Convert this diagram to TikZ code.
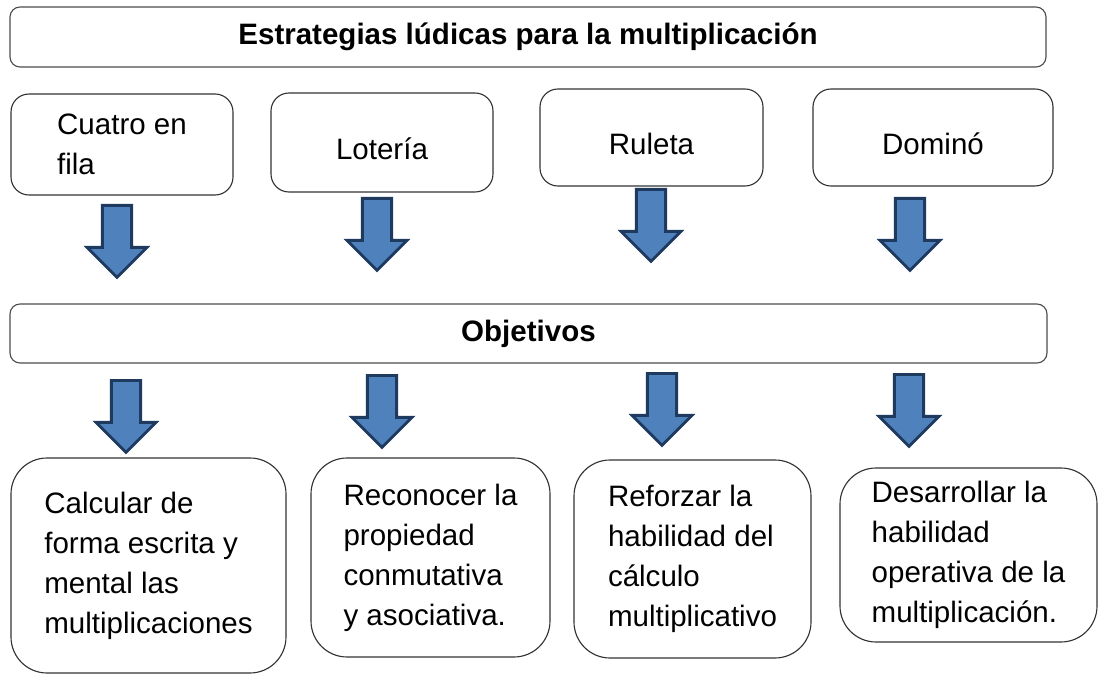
\documentclass[tikz,border=0pt]{standalone}
\usepackage{fontspec}
\setmainfont{Liberation Sans}
\usetikzlibrary{shapes.arrows}

\definecolor{flechaazul}{HTML}{4F81BD}
\definecolor{flechaborde}{HTML}{1F3A5F}

\begin{document}
\begin{tikzpicture}[
  encabezado/.style={
    rectangle, rounded corners=0.25cm, draw=black!70, line width=0.8pt,
    minimum width=25.9cm, minimum height=1.5cm,
    font=\fontsize{21}{24.5}\selectfont\bfseries
  },
  juego/.style={
    rectangle, rounded corners=0.45cm, draw=black!80, line width=0.8pt,
    align=left, font=\fontsize{21}{28.5}\selectfont
  },
  unalinea/.style={text height=0.875cm, text depth=0pt},
  objetivo/.style={
    rectangle, rounded corners=0.9cm, draw=black!80, line width=0.8pt,
    align=left, font=\fontsize{21}{28.5}\selectfont
  },
  flecha/.style={
    single arrow, rotate=-90, anchor=tail, inner xsep=0pt, inner ysep=0.33cm,
    draw=flechaborde, line width=2pt, fill=flechaazul,
    minimum height=1.8cm, single arrow head extend=0.385cm
  }
]
\useasboundingbox (0,0) rectangle (27.475,16.875);

% === Title ===
\node[encabezado] (titulo) at (13.2,15.95) {Estrategias lúdicas para la multiplicación};

% === Games ===
\node[juego, minimum width=5.55cm, minimum height=2.525cm] (cuatro) at (3.05,13.2625) {Cuatro en\\fila};
\node[juego, unalinea, minimum width=5.55cm, minimum height=2.475cm] (loteria) at (9.55,13.3125) {Lotería};
\node[juego, unalinea, minimum width=5.575cm, minimum height=2.425cm] (ruleta) at (16.2875,13.4375) {Ruleta};
\node[juego, unalinea, minimum width=6cm, minimum height=2.425cm] (domino) at (23.325,13.4375) {Dominó};

% === Arrows games -> objectives ===
\node[flecha] (f1) at (2.925,11.775) {};
\node[flecha] (f2) at (9.425,11.95) {};
\node[flecha] (f3) at (16.275,12.175) {};
\node[flecha] (f4) at (22.75,11.95) {};

% === Objectives header ===
\node[encabezado, minimum width=25.925cm, minimum height=1.475cm] (objetivos) at (13.2125,8.5375) {Objetivos};

% === Arrows objectives -> goals ===
\node[flecha] (g1) at (3.15,7.4) {};
\node[flecha] (g2) at (9.55,7.525) {};
\node[flecha] (g3) at (16.55,7.575) {};
\node[flecha] (g4) at (22.725,7.55) {};

% === Goals ===
\node[objetivo, minimum width=6.875cm, minimum height=5.375cm] (calcular) at (3.7125,2.7375)
  {Calcular de\\forma escrita y\\mental las\\multiplicaciones};
\node[objetivo, minimum width=5.975cm, minimum height=4.975cm] (reconocer) at (10.7625,2.9375)
  {Reconocer la\\propiedad\\conmutativa\\y asociativa.};
\node[objetivo, minimum width=5.925cm, minimum height=4.95cm] (reforzar) at (17.3125,2.9)
  {Reforzar la\\habilidad del\\cálculo\\multiplicativo};
\node[objetivo, minimum width=6.425cm, minimum height=4.35cm] (desarrollar) at (24.2125,3.0)
  {Desarrollar la\\habilidad\\operativa de la\\multiplicación.};

\end{tikzpicture}
\end{document}
